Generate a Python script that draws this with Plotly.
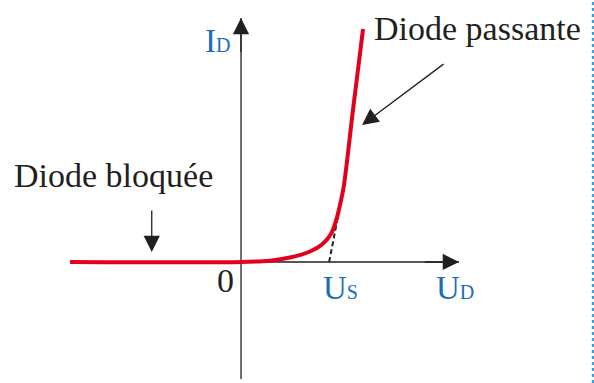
import plotly.graph_objects as go

# Caractéristique I_D = f(U_D) d'une diode (unités arbitraires, U_S = 1)
u_d = [-1.92, 0.0, 0.326, 0.551, 0.775, 0.910, 1.011, 1.067, 1.112, 1.157, 1.258, 1.371]
i_d = [0.0, 0.0, 0.015, 0.051, 0.118, 0.197, 0.315, 0.461, 0.640, 0.865, 1.708, 2.618]

# tangente (partie linéaire prolongée jusqu'à U_S)
u_tan = [0.99, 1.13]
i_tan = [0.0, 0.72]

# étendue des axes
u_axe = [-1.92, 2.449]
i_axe = [-1.315, 2.742]

SERIF = "Liberation Serif, Times New Roman, serif"
BLUE = "#1b6db4"
INK = "#231f20"
RED = "#e3001b"

fig = go.Figure()

# axes (sous la courbe)
fig.add_trace(go.Scatter(x=u_axe, y=[0, 0], mode="lines",
                         line=dict(color=INK, width=1.3), hoverinfo="skip"))
fig.add_trace(go.Scatter(x=[0, 0], y=i_axe, mode="lines",
                         line=dict(color=INK, width=1.3), hoverinfo="skip"))

fig.add_trace(go.Scatter(x=u_tan, y=i_tan, mode="lines",
                         line=dict(color=INK, width=2, dash="5px,3px"), hoverinfo="skip"))
fig.add_trace(go.Scatter(x=u_d, y=i_d, mode="lines",
                         line=dict(color=RED, width=4, shape="spline", smoothing=0.8),
                         hoverinfo="skip"))

# pointes de flèche des axes
arrow = dict(showarrow=True, arrowhead=2, arrowsize=2.5, arrowwidth=1.3,
             arrowcolor=INK, axref="x", ayref="y", text="")
fig.add_annotation(x=u_axe[1], y=0, ax=u_axe[1] - 0.4, ay=0, **arrow)
fig.add_annotation(x=0, y=i_axe[1], ax=0, ay=i_axe[1] - 0.4, **arrow)

# flèches des légendes
fig.add_annotation(x=-1.003, y=0.112, ax=-1.003, ay=0.596, **arrow)
fig.add_annotation(x=1.36, y=1.539, ax=2.292, ay=2.236, **arrow)

# pointillés bleus en bord droit
fig.add_shape(type="line", xref="paper", yref="paper", x0=0.998, x1=0.998, y0=0, y1=1,
              line=dict(color="#2a9ad6", width=2, dash="dot"))

txt = dict(showarrow=False, font=dict(family=SERIF, size=34, color=INK))
fig.add_annotation(x=1.472, y=2.62, text="Diode passante", xanchor="left", yanchor="middle", **txt)
fig.add_annotation(x=-2.574, y=0.97, text="Diode bloquée", xanchor="left", yanchor="middle", **txt)
fig.add_annotation(x=-0.18, y=-0.21, text="0", xanchor="center", yanchor="middle", **txt)

lab = dict(showarrow=False, font=dict(family=SERIF, size=33, color=BLUE))
sub = "<span style='font-size:20px'>{}</span>"
fig.add_annotation(x=-0.26, y=2.48, text="I" + sub.format("D"), xanchor="center", yanchor="middle", **lab)
fig.add_annotation(x=1.12, y=-0.29, text="U" + sub.format("S"), xanchor="center", yanchor="middle", **lab)
fig.add_annotation(x=2.40, y=-0.29, text="U" + sub.format("D"), xanchor="center", yanchor="middle", **lab)

fig.update_layout(
    width=594,
    height=383,
    margin=dict(l=0, r=0, t=0, b=0),
    paper_bgcolor="white",
    plot_bgcolor="white",
    showlegend=False,
    xaxis=dict(range=[-2.708, 3.966], visible=False, fixedrange=True),
    yaxis=dict(range=[-1.360, 2.944], visible=False, fixedrange=True),
)

fig.write_html("out.html", config={"displayModeBar": False},
               post_script="document.body.style.margin='0';")
